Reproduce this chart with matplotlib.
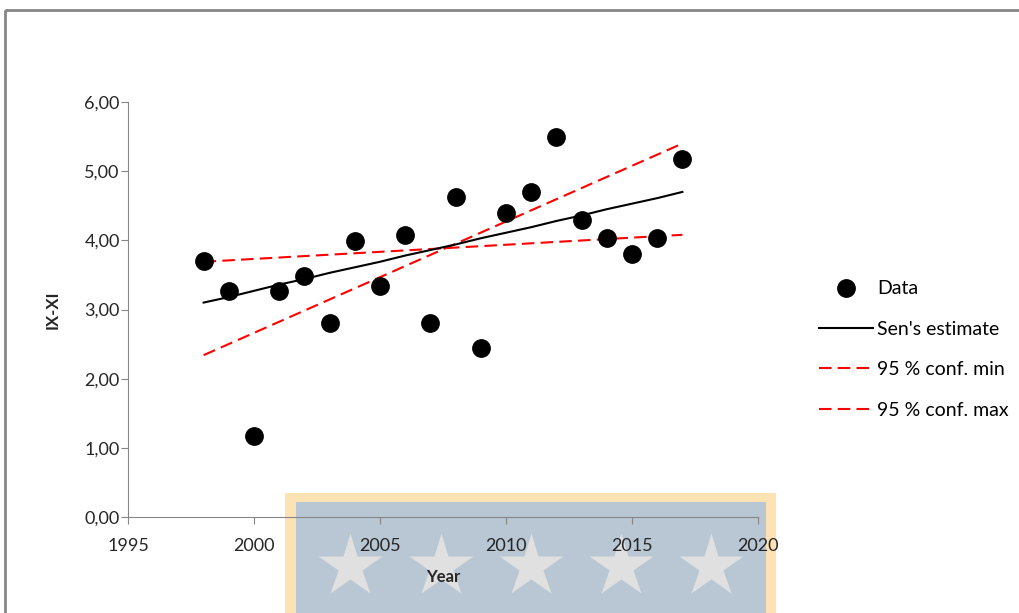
import matplotlib
matplotlib.use("Agg")
import matplotlib.pyplot as plt
from matplotlib.patches import Rectangle
from matplotlib.ticker import FuncFormatter

plt.rcParams['font.family'] = ['Lato', 'DejaVu Sans']

years = list(range(1998, 2018))
data = [3.70, 3.27, 1.17, 3.27, 3.49, 2.81, 3.99, 3.34, 4.07, 2.81,
        4.63, 2.44, 4.39, 4.70, 5.49, 4.30, 4.03, 3.80, 4.03, 5.17]
sen = [3.10, 3.18, 3.27, 3.36, 3.44, 3.53, 3.61, 3.69, 3.78, 3.86,
       3.94, 4.03, 4.11, 4.19, 4.28, 4.36, 4.45, 4.53, 4.61, 4.70]
conf_years = [1998, 2017]
conf_min = [3.69, 4.08]
conf_max = [2.34, 5.40]

W, H = 1020, 613
fig = plt.figure(figsize=(W / 100, H / 100), dpi=100)

# background layer in pixel coordinates: frame and the banner with stars
bg = fig.add_axes([0, 0, 1, 1], zorder=0)
bg.set_xlim(0, W)
bg.set_ylim(H, 0)
bg.axis('off')
bg.add_patch(Rectangle((5, 10), W, H, fill=False, edgecolor='#878787', lw=2))
bg.add_patch(Rectangle((285, 493), 491, 130, facecolor='#fde2b4', edgecolor='none'))
bg.add_patch(Rectangle((296, 502), 470, 130, facecolor='#b8c7d3', edgecolor='none'))
for sx in [350, 441, 531, 621, 711]:
    bg.plot(sx, 566, marker='*', ms=48, color='#e0e0e0', mec='none')

ax = fig.add_axes([128 / W, 1 - 517 / H, 630 / W, 415 / H], zorder=1)
ax.patch.set_alpha(0)

ax.plot(years, data, 'o', color='black', ms=12.5, label='Data', zorder=4)
ax.plot(years, sen, '-', color='black', lw=1.5, label="Sen's estimate", zorder=3)
ax.plot(conf_years, conf_min, color='#ff0000', lw=1.5, dashes=(6, 3),
        label='95 % conf. min', zorder=2)
ax.plot(conf_years, conf_max, color='#ff0000', lw=1.5, dashes=(6, 3),
        label='95 % conf. max', zorder=2)

ax.set_xlim(1995, 2020)
ax.set_ylim(0, 6)
ax.set_xticks(range(1995, 2021, 5))
ax.set_yticks(range(0, 7))
ax.yaxis.set_major_formatter(FuncFormatter(lambda v, _: f'{v:.2f}'.replace('.', ',')))

for side in ['top', 'right']:
    ax.spines[side].set_visible(False)
for side in ['left', 'bottom']:
    ax.spines[side].set_color('#868686')
ax.tick_params(axis='both', colors='#868686', labelcolor='#262626',
               labelsize=13, length=5, direction='out')
ax.tick_params(axis='x', pad=10)
ax.tick_params(axis='y', pad=1)

ax.set_ylabel('IX-XI', fontsize=12, fontweight='bold', color='#262626', labelpad=17)
ax.set_xlabel('Year', fontsize=12, fontweight='bold', color='#262626', labelpad=11)

ax.legend(loc='upper left', bbox_to_anchor=(674 / 630, (517 - 263) / 415),
          frameon=False, fontsize=14, handlelength=2.75, labelspacing=1.2,
          handletextpad=0.22, numpoints=1)

fig.savefig('out.png', dpi=100)
